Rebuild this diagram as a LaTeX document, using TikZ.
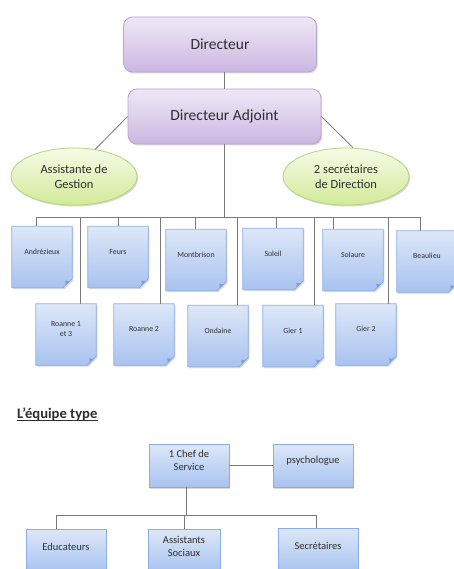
\documentclass[tikz,border=0pt]{standalone}
\usepackage{fontspec}
\setmainfont{Carlito}
\usetikzlibrary{shapes.geometric,shadows,backgrounds}
\definecolor{purtop}{HTML}{EEE8F6}
\definecolor{purbot}{HTML}{CBB7E2}
\definecolor{purdraw}{HTML}{B9A4D6}
\definecolor{greentop}{HTML}{F6FBE6}
\definecolor{greenbot}{HTML}{D2EA9A}
\definecolor{greendraw}{HTML}{B4D47E}
\definecolor{bluetop}{HTML}{DDE7F8}
\definecolor{bluebot}{HTML}{A8C3F0}
\definecolor{bluedraw}{HTML}{8CADE3}
\definecolor{foldc}{HTML}{7E9FD6}
\definecolor{linec}{HTML}{7A7A7A}
\definecolor{txt}{HTML}{2E2E2E}
\newcommand{\lift}[2]{\raisebox{#1}[0pt][0pt]{\begin{tabular}{@{}c@{}}#2\end{tabular}}}
\begin{document}
\begin{tikzpicture}[x=1pt,y=-1pt,
  conn/.style={draw=linec, line width=0.8pt},
  shad/.style={drop shadow={shadow xshift=1.2pt, shadow yshift=-1.5pt, opacity=0.25, fill=black!60}},
  purplebox/.style={rounded corners=9pt, top color=purtop, bottom color=purbot, draw=purdraw, line width=0.8pt,
    minimum width=193pt, minimum height=55pt, inner sep=0pt, text=txt, font=\fontsize{15.5}{18}\selectfont, shad},
  greenell/.style={ellipse, top color=greentop, bottom color=greenbot, draw=greendraw, line width=0.8pt,
    minimum width=126pt, minimum height=57pt, inner sep=0pt, align=center, text=txt, font=\fontsize{12.5}{15.5}\selectfont, shad},
  notebox/.style={minimum width=60pt, minimum height=61pt, inner sep=0pt, text=txt, font=\fontsize{7.8}{10.5}\selectfont},
  notefill/.style={top color=bluetop, bottom color=bluebot, draw=bluedraw, line width=0.7pt, shad},
  bluebox/.style={top color=bluetop, bottom color=bluebot, draw=bluedraw, line width=0.8pt,
    minimum width=80pt, minimum height=43pt, inner sep=0pt, text=txt, font=\fontsize{10.5}{13}\selectfont, shad}
]
\useasboundingbox (0,0) rectangle (454,569);
\begin{scope}[on background layer]
  \fill[white] (0,0) rectangle (454,569);
\end{scope}

% top hierarchy
\node[purplebox] (dir) at (220,44.5) {Directeur};
\node[purplebox] (adj) at (224.5,116.5) {Directeur Adjoint};
\node[greenell] (ag) at (74,176.5) {Assistante de\\Gestion};
\node[greenell] (sec) at (346,176.5) {2 secrétaires\\de Direction};

\draw[conn] (adj.north |- dir.south) -- (adj.north);
\draw[conn] (adj.west) -- (ag.52);
\draw[conn] (adj.east) -- (sec.76);

% notes
\node[notebox] (andr) at (42,257) {\lift{3pt}{Andrézieux}};
\node[notebox] (feurs) at (118,257) {\lift{3pt}{Feurs}};
\node[notebox] (mont) at (196,260) {\lift{3pt}{Montbrison}};
\node[notebox] (soleil) at (273,259) {\lift{3pt}{Soleil}};
\node[notebox] (solaure) at (353,260) {\lift{3pt}{Solaure}};
\node[notebox] (beau) at (427,261.5) {\lift{3pt}{Beaulieu}};
\node[notebox] (roa13) at (66,334.5) {\lift{3pt}{Roanne 1\\et 3}};
\node[notebox] (roa2) at (144,334.5) {\lift{3pt}{Roanne 2}};
\node[notebox] (ond) at (218,336) {\lift{3pt}{Ondaine}};
\node[notebox] (gier1) at (293,336) {\lift{3pt}{Gier 1}};
\node[notebox] (gier2) at (366,334.5) {\lift{3pt}{Gier 2}};

\begin{scope}[on background layer]
\foreach \n in {andr,feurs,mont,soleil,solaure,beau,roa13,roa2,ond,gier1,gier2}{
  \path[notefill] (\n.north west) -- (\n.north east) -- ([yshift=9pt]\n.south east)
     -- ([xshift=-9pt]\n.south east) -- (\n.south west) -- cycle;
  \fill[foldc] ([yshift=9pt]\n.south east) .. controls ([xshift=-3pt,yshift=6pt]\n.south east) .. ([xshift=-7pt,yshift=7pt]\n.south east)
     .. controls ([xshift=-6pt,yshift=3pt]\n.south east) .. ([xshift=-9pt]\n.south east) -- cycle;
}
\end{scope}

\coordinate (bus) at (224.5,217);
\draw[conn] (adj.south) -- (bus);
\draw[conn] ([xshift=-6pt]andr.north) |- (bus);
\draw[conn] (feurs.north) |- (bus);
\draw[conn] ([xshift=-1pt]mont.north) |- (bus);
\draw[conn] ([xshift=3pt]soleil.north) |- (bus);
\draw[conn] ([xshift=-20pt]solaure.north) |- (bus);
\draw[conn] ([xshift=-7pt]beau.north) |- (bus);
\draw[conn] ([xshift=14pt]roa13.north) |- (bus);
\draw[conn] ([xshift=16pt]roa2.north) |- (bus);
\draw[conn] ([xshift=19pt]ond.north) |- (bus);
\draw[conn] ([xshift=21pt]gier1.north) |- (bus);
\draw[conn] ([xshift=22pt]gier2.north) |- (bus);

% equipe type
\node[anchor=base west, inner sep=0pt, text=txt, font=\fontsize{14.6}{16}\selectfont\bfseries] (title) at (17,418.5) {L’équipe type};
\draw[txt, line width=0.7pt] ([yshift=-1.6pt]title.base west) -- ([yshift=-1.6pt]title.base east);

\node[bluebox] (chef) at (189,465.5) {\lift{1.5pt}{1 Chef de\\Service}};
\node[bluebox] (psy) at (313,465.5) {\lift{1.5pt}{psychologue}};
\draw[conn] (chef.east) -- (psy.west);

\node[bluebox, minimum width=72pt] (assist) at (184,550.5) {\lift{0pt}{Assistants\\Sociaux}};
\node[bluebox] (educ) at (66,550.5) {\lift{0pt}{Educateurs}};
\node[bluebox] (secr) at (318,549.5) {\lift{0pt}{Secrétaires}};

\coordinate (bus2) at (186,515);
\draw[conn] ([xshift=-3pt]chef.south) -- (bus2);
\draw[conn] ([xshift=-10pt]educ.north) |- (bus2);
\draw[conn] (assist.north) |- (bus2);
\draw[conn] ([xshift=-2pt]secr.north) |- (bus2);
\end{tikzpicture}
\end{document}
